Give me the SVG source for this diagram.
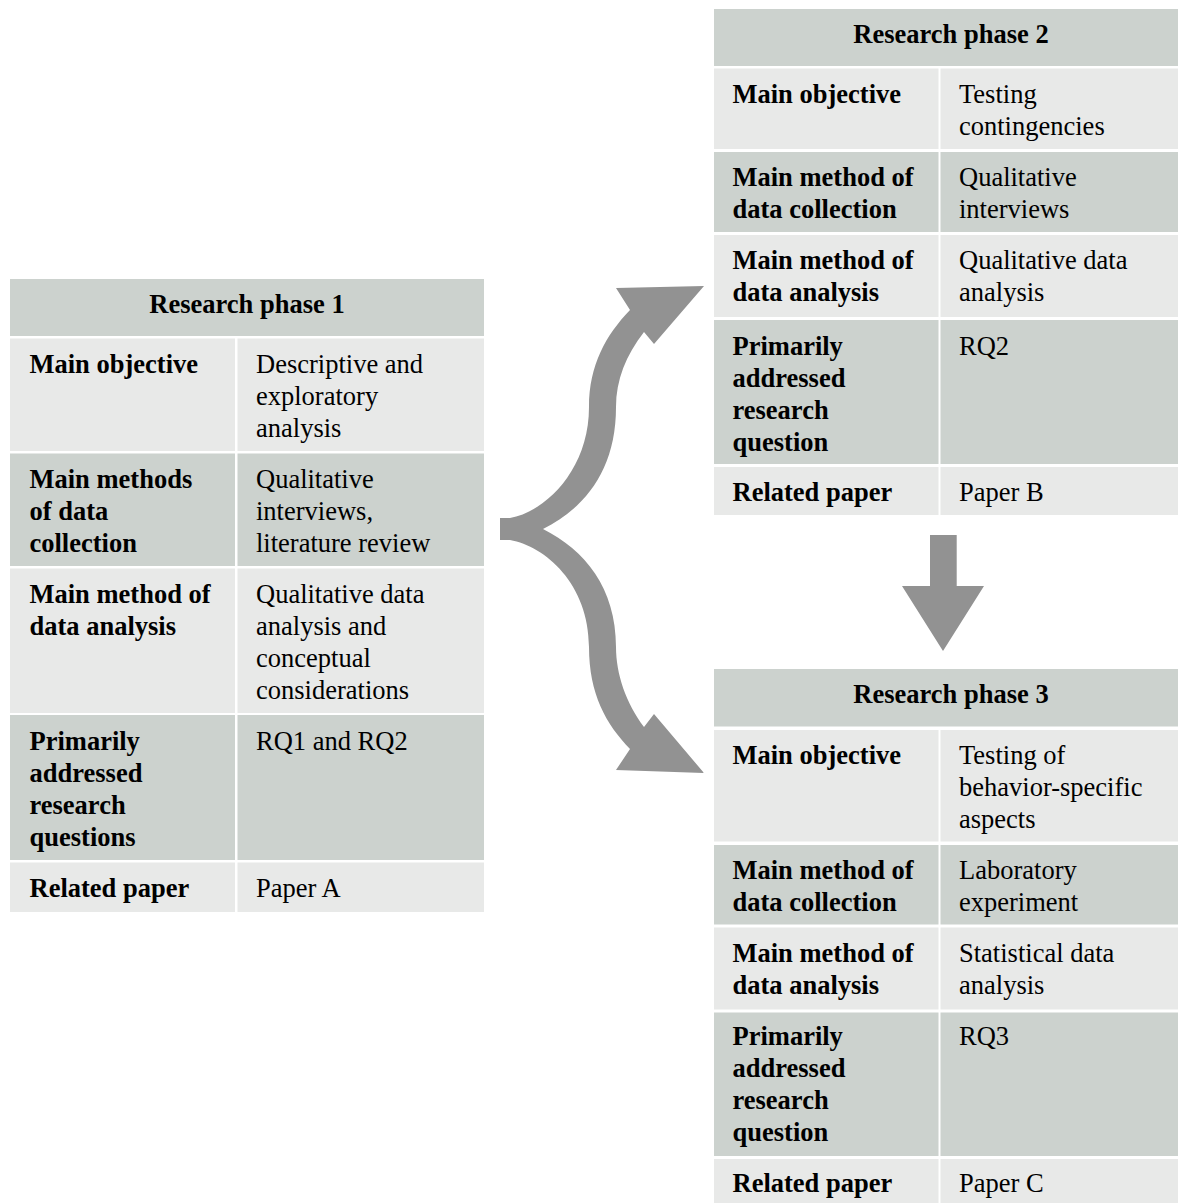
<svg xmlns="http://www.w3.org/2000/svg" width="1178" height="1203" viewBox="0 0 1178 1203">
  <style>
    .dark { fill: #ccd2ce; }
    .light { fill: #e8e9e8; }
    .arrow { fill: #929292; }
    text { font-family: "Liberation Serif", "Times New Roman", serif; font-size: 26.5px; fill: #000; }
    .b { font-weight: bold; }
    .hd { font-weight: bold; text-anchor: middle; }
  </style>
  <rect width="1178" height="1203" fill="#ffffff"/>

  <!-- Phase 1 table -->
  <g id="phase1">
    <rect class="dark" x="10" y="279" width="474" height="57"/>
    <text class="hd" x="247" y="313">Research phase 1</text>

    <rect class="light" x="10" y="338.5" width="225" height="112.5"/>
    <rect class="light" x="237.5" y="338.5" width="246.5" height="112.5"/>
    <text class="b" x="29.5" y="372.7">Main objective</text>
    <text x="256" y="372.7">Descriptive and<tspan x="256" y="404.7">exploratory</tspan><tspan x="256" y="436.7">analysis</tspan></text>

    <rect class="dark" x="10" y="453.5" width="225" height="112.5"/>
    <rect class="dark" x="237.5" y="453.5" width="246.5" height="112.5"/>
    <text class="b" x="29.5" y="487.7">Main methods<tspan x="29.5" y="519.7">of data</tspan><tspan x="29.5" y="551.7">collection</tspan></text>
    <text x="256" y="487.7">Qualitative<tspan x="256" y="519.7">interviews,</tspan><tspan x="256" y="551.7">literature review</tspan></text>

    <rect class="light" x="10" y="568.5" width="225" height="144.5"/>
    <rect class="light" x="237.5" y="568.5" width="246.5" height="144.5"/>
    <text class="b" x="29.5" y="602.7">Main method of<tspan x="29.5" y="634.7">data analysis</tspan></text>
    <text x="256" y="602.7">Qualitative data<tspan x="256" y="634.7">analysis and</tspan><tspan x="256" y="666.7">conceptual</tspan><tspan x="256" y="698.7">considerations</tspan></text>

    <rect class="dark" x="10" y="715" width="225" height="145"/>
    <rect class="dark" x="237.5" y="715" width="246.5" height="145"/>
    <text class="b" x="29.5" y="750">Primarily<tspan x="29.5" y="782">addressed</tspan><tspan x="29.5" y="814">research</tspan><tspan x="29.5" y="846">questions</tspan></text>
    <text x="256" y="750">RQ1 and RQ2</text>

    <rect class="light" x="10" y="862.5" width="225" height="49.5"/>
    <rect class="light" x="237.5" y="862.5" width="246.5" height="49.5"/>
    <text class="b" x="29.5" y="896.7">Related paper</text>
    <text x="256" y="896.7">Paper A</text>
  </g>

  <!-- Phase 2 table -->
  <g id="phase2">
    <rect class="dark" x="714" y="9" width="474" height="57"/>
    <text class="hd" x="951" y="43">Research phase 2</text>

    <rect class="light" x="714" y="68.5" width="224.5" height="80.5"/>
    <rect class="light" x="940.5" y="68.5" width="247.5" height="80.5"/>
    <text class="b" x="732.5" y="103">Main objective</text>
    <text x="959" y="103">Testing<tspan x="959" y="135">contingencies</tspan></text>

    <rect class="dark" x="714" y="152" width="224.5" height="80"/>
    <rect class="dark" x="940.5" y="152" width="247.5" height="80"/>
    <text class="b" x="732.5" y="185.7">Main method of<tspan x="732.5" y="217.7">data collection</tspan></text>
    <text x="959" y="185.7">Qualitative<tspan x="959" y="217.7">interviews</tspan></text>

    <rect class="light" x="714" y="235" width="224.5" height="82"/>
    <rect class="light" x="940.5" y="235" width="247.5" height="82"/>
    <text class="b" x="732.5" y="269">Main method of<tspan x="732.5" y="301">data analysis</tspan></text>
    <text x="959" y="269">Qualitative data<tspan x="959" y="301">analysis</tspan></text>

    <rect class="dark" x="714" y="320" width="224.5" height="144"/>
    <rect class="dark" x="940.5" y="320" width="247.5" height="144"/>
    <text class="b" x="732.5" y="354.5">Primarily<tspan x="732.5" y="386.5">addressed</tspan><tspan x="732.5" y="418.5">research</tspan><tspan x="732.5" y="450.5">question</tspan></text>
    <text x="959" y="354.5">RQ2</text>

    <rect class="light" x="714" y="467" width="224.5" height="48"/>
    <rect class="light" x="940.5" y="467" width="247.5" height="48"/>
    <text class="b" x="732.5" y="501">Related paper</text>
    <text x="959" y="501">Paper B</text>
  </g>

  <!-- Phase 3 table -->
  <g id="phase3">
    <rect class="dark" x="714" y="669" width="474" height="57.5"/>
    <text class="hd" x="951" y="703">Research phase 3</text>

    <rect class="light" x="714" y="730" width="224.5" height="111.5"/>
    <rect class="light" x="940.5" y="730" width="247.5" height="111.5"/>
    <text class="b" x="732.5" y="764.3">Main objective</text>
    <text x="959" y="764.3">Testing of<tspan x="959" y="796.3">behavior-specific</tspan><tspan x="959" y="828.3">aspects</tspan></text>

    <rect class="dark" x="714" y="845" width="224.5" height="79.5"/>
    <rect class="dark" x="940.5" y="845" width="247.5" height="79.5"/>
    <text class="b" x="732.5" y="879">Main method of<tspan x="732.5" y="911">data collection</tspan></text>
    <text x="959" y="879">Laboratory<tspan x="959" y="911">experiment</tspan></text>

    <rect class="light" x="714" y="927.5" width="224.5" height="82"/>
    <rect class="light" x="940.5" y="927.5" width="247.5" height="82"/>
    <text class="b" x="732.5" y="961.5">Main method of<tspan x="732.5" y="993.5">data analysis</tspan></text>
    <text x="959" y="961.5">Statistical data<tspan x="959" y="993.5">analysis</tspan></text>

    <rect class="dark" x="714" y="1012.5" width="224.5" height="143.5"/>
    <rect class="dark" x="940.5" y="1012.5" width="247.5" height="143.5"/>
    <text class="b" x="732.5" y="1045">Primarily<tspan x="732.5" y="1077">addressed</tspan><tspan x="732.5" y="1109">research</tspan><tspan x="732.5" y="1141">question</tspan></text>
    <text x="959" y="1045">RQ3</text>

    <rect class="light" x="714" y="1159" width="224.5" height="44"/>
    <rect class="light" x="940.5" y="1159" width="247.5" height="44"/>
    <text class="b" x="732.5" y="1192">Related paper</text>
    <text x="959" y="1192">Paper C</text>
  </g>

  <!-- Connectors: forked curved arrow and straight down arrow -->
  <g id="connectors">
    <path class="arrow" d="M500,518 L510,518 C545,512 589,470 589,407 C589,365 606,335 630,310 L616,288 L704,286 L654,344 L644,332 C626,355 616,380 616,407 C616,470 585,508 543,529 C585,550 616,588 616,647 C616,674 626,703 644,727 L654,714 L704,773 L616,770 L630,749 C606,724 589,694 589,647 C589,584 545,546 510,540 L500,540 Z"/>
    <path class="arrow" d="M930,535 L956.7,535 L956.7,586 L984,586 L943,651 L902,586 L930,586 Z"/>
  </g>
</svg>
